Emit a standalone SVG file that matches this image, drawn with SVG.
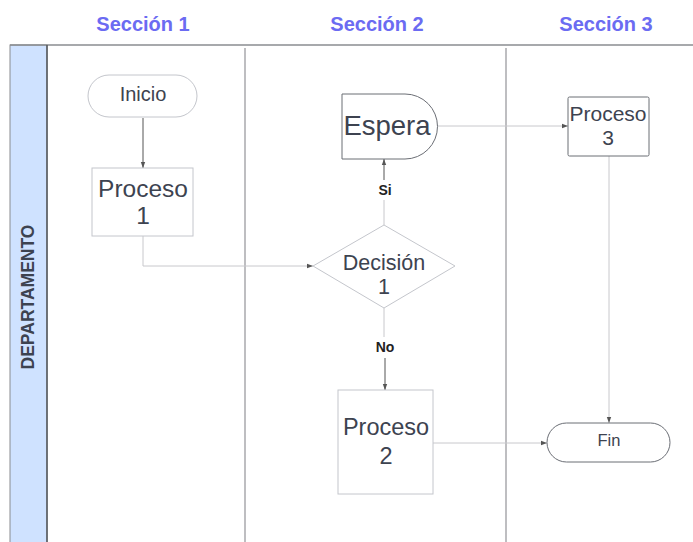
<svg xmlns="http://www.w3.org/2000/svg" width="693" height="542" viewBox="0 0 693 542">
  <defs>
    <marker id="arrow" viewBox="0 0 6 6" refX="6" refY="3" markerWidth="6" markerHeight="6" orient="auto" markerUnits="userSpaceOnUse">
      <path d="M0,0.8 L6,3 L0,5.2 z" fill="#555"/>
    </marker>
    <style>
      .title { font-family: "Liberation Sans", Arial, sans-serif; font-weight: bold; font-size: 20px; fill: #6b6bf2; text-anchor: middle; }
      .lbl { font-family: "Liberation Sans", Arial, sans-serif; fill: #3d4350; text-anchor: middle; }
      .edge-lbl { font-family: "Liberation Sans", Arial, sans-serif; font-weight: bold; font-size: 14px; fill: #222; text-anchor: middle; }
      .shape { fill: #fff; stroke: #c4c6cc; stroke-width: 1; }
      .shape-dark { fill: #fff; stroke: #6b6e75; stroke-width: 1; }
      .conn { fill: none; stroke: #c8c8cc; stroke-width: 1; }
      .conn-dark { fill: none; stroke: #555; stroke-width: 1; }
      .lane { stroke: #a8a8ac; stroke-width: 1.5; }
    </style>
  </defs>

  <rect width="693" height="542" fill="#fff"/>

  <!-- Section headings -->
  <text class="title" x="143" y="31">Sección 1</text>
  <text class="title" x="377" y="31">Sección 2</text>
  <text class="title" x="606" y="31">Sección 3</text>

  <!-- Pool and lanes -->
  <g id="pool">
    <rect x="10" y="45" width="37" height="500" fill="#cfe2ff" stroke="#8a8c90" stroke-width="1"/>
    <line x1="10" y1="45" x2="693" y2="45" stroke="#8a8c90" stroke-width="1.5"/>
    <line x1="47" y1="45" x2="47" y2="542" stroke="#55575c" stroke-width="1.5"/>
    <line class="lane" x1="245" y1="48" x2="245" y2="542"/>
    <line class="lane" x1="506" y1="48" x2="506" y2="542"/>
    <text class="lbl" transform="translate(33.5,297) rotate(-90)" font-size="17.5" font-weight="bold" fill="#333">DEPARTAMENTO</text>
  </g>

  <!-- Connectors -->
  <g id="connectors">
    <line class="conn-dark" x1="143" y1="118" x2="143" y2="168" marker-end="url(#arrow)"/>
    <path class="conn" d="M143,236 V266 H313" marker-end="url(#arrow)"/>
    <line class="conn" x1="384" y1="225" x2="384" y2="200"/>
    <line class="conn-dark" x1="384" y1="180" x2="384" y2="159" marker-end="url(#arrow)"/>
    <text class="edge-lbl" x="385" y="195">Si</text>
    <line class="conn" x1="437" y1="126" x2="568" y2="126" marker-end="url(#arrow)"/>
    <line class="conn" x1="384" y1="308" x2="384" y2="337"/>
    <line class="conn-dark" x1="385" y1="358" x2="385" y2="390" marker-end="url(#arrow)"/>
    <text class="edge-lbl" x="385" y="352">No</text>
    <line class="conn" x1="609" y1="156" x2="609" y2="423" marker-end="url(#arrow)"/>
    <line class="conn" x1="433" y1="443" x2="547" y2="443" marker-end="url(#arrow)"/>
  </g>

  <!-- Nodes -->
  <g id="inicio">
    <rect class="shape" x="88" y="75" width="109" height="42" rx="21" ry="21"/>
    <text class="lbl" x="143" y="101" font-size="20">Inicio</text>
  </g>

  <g id="proceso1">
    <rect class="shape" x="92" y="168" width="101" height="68"/>
    <text class="lbl" x="143" y="197" font-size="24.5">Proceso</text>
    <text class="lbl" x="143" y="224" font-size="24.5">1</text>
  </g>

  <g id="decision1">
    <polygon class="shape" points="384,225 455,266 384,308 313,266"/>
    <text class="lbl" x="384" y="270" font-size="21.5">Decisión</text>
    <text class="lbl" x="384" y="294" font-size="21.5">1</text>
  </g>

  <g id="espera">
    <path class="shape-dark" d="M342,94 H405 A32.5,32.5 0 0 1 405,159 H342 Z"/>
    <text class="lbl" x="387" y="135" font-size="27.5">Espera</text>
  </g>

  <g id="proceso3">
    <rect class="shape-dark" x="568" y="97" width="81" height="59" rx="1.5"/>
    <text class="lbl" x="608" y="121" font-size="21">Proceso</text>
    <text class="lbl" x="608" y="145" font-size="21">3</text>
  </g>

  <g id="proceso2">
    <rect class="shape" x="338" y="390" width="95" height="104"/>
    <text class="lbl" x="386" y="435" font-size="23.5">Proceso</text>
    <text class="lbl" x="386" y="464" font-size="23.5">2</text>
  </g>

  <g id="fin">
    <rect class="shape-dark" x="547" y="423" width="123" height="39" rx="19.5" ry="19.5" stroke="#9a9ca2"/>
    <text class="lbl" x="609" y="446" font-size="16.5">Fin</text>
  </g>
</svg>
